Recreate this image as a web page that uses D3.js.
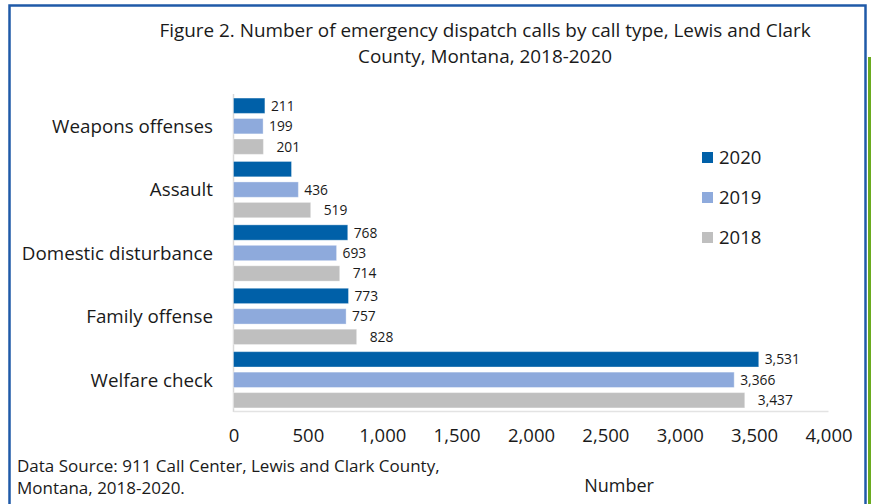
<!DOCTYPE html>
<html>
<head>
<meta charset="utf-8">
<script src="https://cdn.jsdelivr.net/npm/d3@7"></script>
<style>
  html, body { margin: 0; padding: 0; background: #ffffff; }
  svg { display: block; }
  text { font-family: "Open Sans", Lato, sans-serif; fill: #1a1a1a; }
</style>
</head>
<body>
<svg id="chart" width="871" height="504"></svg>
<script>
// ---- data ----
const categories = ["Weapons offenses", "Assault", "Domestic disturbance", "Family offense", "Welfare check"];
const years = ["2020", "2019", "2018"];
const values2020 = [211, 390, 768, 773, 3531];
const values2019 = [199, 436, 693, 757, 3366];
const values2018 = [201, 519, 714, 828, 3437];
const showLabel2020 = [true, false, true, true, true];
const xTicks = [0, 500, 1000, 1500, 2000, 2500, 3000, 3500, 4000];
const titleLines = ["Figure 2. Number of emergency dispatch calls by call type, Lewis and Clark", "County, Montana, 2018-2020"];
const sourceLines = ["Data Source: 911 Call Center, Lewis and Clark County,", "Montana, 2018-2020."];
const xAxisTitle = "Number";

const seriesValues = { "2020": values2020, "2019": values2019, "2018": values2018 };
const colors = { "2020": "#0060a8", "2019": "#8eaadc", "2018": "#bfbfbf" };
const labelGap = { "2020": 6, "2019": 6, "2018": 13 };

const svg = d3.select("#chart");

// frame
svg.append("rect").attr("x", 868).attr("y", 57).attr("width", 3).attr("height", 447).attr("fill", "#6aab1e");
svg.append("rect").attr("x", 9.5).attr("y", 5.5).attr("width", 856).attr("height", 510)
  .attr("fill", "none").attr("stroke", "#1f5aa8").attr("stroke-width", 2.5);

// scales
const x = d3.scaleLinear().domain([0, 4000]).range([233.5, 828.5]);
const y0 = d3.scaleBand().domain(categories).range([94.5, 411.5]).paddingInner(0.08).paddingOuter(0.04);
const y1 = d3.scaleBand().domain(years).range([0, y0.bandwidth()]).paddingInner(0.25).paddingOuter(0.05);

// title
svg.selectAll("text.title").data(titleLines).join("text")
  .attr("class", "title")
  .attr("x", 485).attr("y", (d, i) => 37 + i * 26)
  .attr("text-anchor", "middle").style("font-size", "18.9px").text(d => d);

// axis lines
svg.append("line").attr("x1", x(0)).attr("x2", x(0)).attr("y1", 94).attr("y2", 412)
  .attr("stroke", "#d9d9d9").attr("stroke-width", 1.5);
svg.append("line").attr("x1", x(0)).attr("x2", x(4000)).attr("y1", 411.5).attr("y2", 411.5)
  .attr("stroke", "#e3e3e3").attr("stroke-width", 1.5);

// bars
const groups = svg.selectAll("g.cat").data(categories).join("g")
  .attr("class", "cat")
  .attr("transform", d => `translate(0,${y0(d)})`);

groups.each(function(cat, ci) {
  const g = d3.select(this);
  years.forEach(yr => {
    const v = seriesValues[yr][ci];
    g.append("rect")
      .attr("x", x(0)).attr("y", y1(yr))
      .attr("width", x(v) - x(0)).attr("height", y1.bandwidth())
      .attr("fill", colors[yr]).attr("stroke", "#ffffff").attr("stroke-opacity", 0.35).attr("stroke-width", 1);
    if (yr !== "2020" || showLabel2020[ci]) {
      g.append("text")
        .attr("x", x(v) + labelGap[yr]).attr("y", y1(yr) + y1.bandwidth() / 2)
        .attr("dy", "0.36em").style("font-size", "13.8px")
        .text(d3.format(",")(v));
    }
  });
});

// category labels
svg.selectAll("text.cat").data(categories).join("text")
  .attr("class", "cat")
  .attr("x", 213).attr("y", d => y0(d) + y0.bandwidth() / 2)
  .attr("dy", "0.36em").attr("text-anchor", "end").style("font-size", "18.8px")
  .text(d => d);

// x axis tick labels
const xAxis = d3.axisBottom(x).tickValues(xTicks).tickFormat(d3.format(",")).tickSize(0).tickPadding(0);
const ax = svg.append("g").attr("transform", "translate(0,429)").call(xAxis);
ax.select(".domain").remove();
ax.selectAll("text").style("font-size", "18.5px").attr("fill", "#1a1a1a").style("font-family", "'Open Sans', sans-serif");

// legend
const leg = svg.selectAll("g.leg").data(years).join("g")
  .attr("class", "leg")
  .attr("transform", (d, i) => `translate(702,${152 + i * 40})`);
leg.append("rect").attr("width", 11).attr("height", 11).attr("fill", d => colors[d]);
leg.append("text").attr("x", 17).attr("y", 5.5).attr("dy", "0.36em").style("font-size", "18.5px").text(d => d);

// source
svg.selectAll("text.src").data(sourceLines).join("text")
  .attr("class", "src")
  .attr("x", 17).attr("y", (d, i) => 472 + i * 22)
  .style("font-size", "17px").text(d => d);

// axis title
svg.append("text").attr("x", 619).attr("y", 492).attr("text-anchor", "middle")
  .style("font-size", "18px").text(xAxisTitle);
</script>
</body>
</html>
